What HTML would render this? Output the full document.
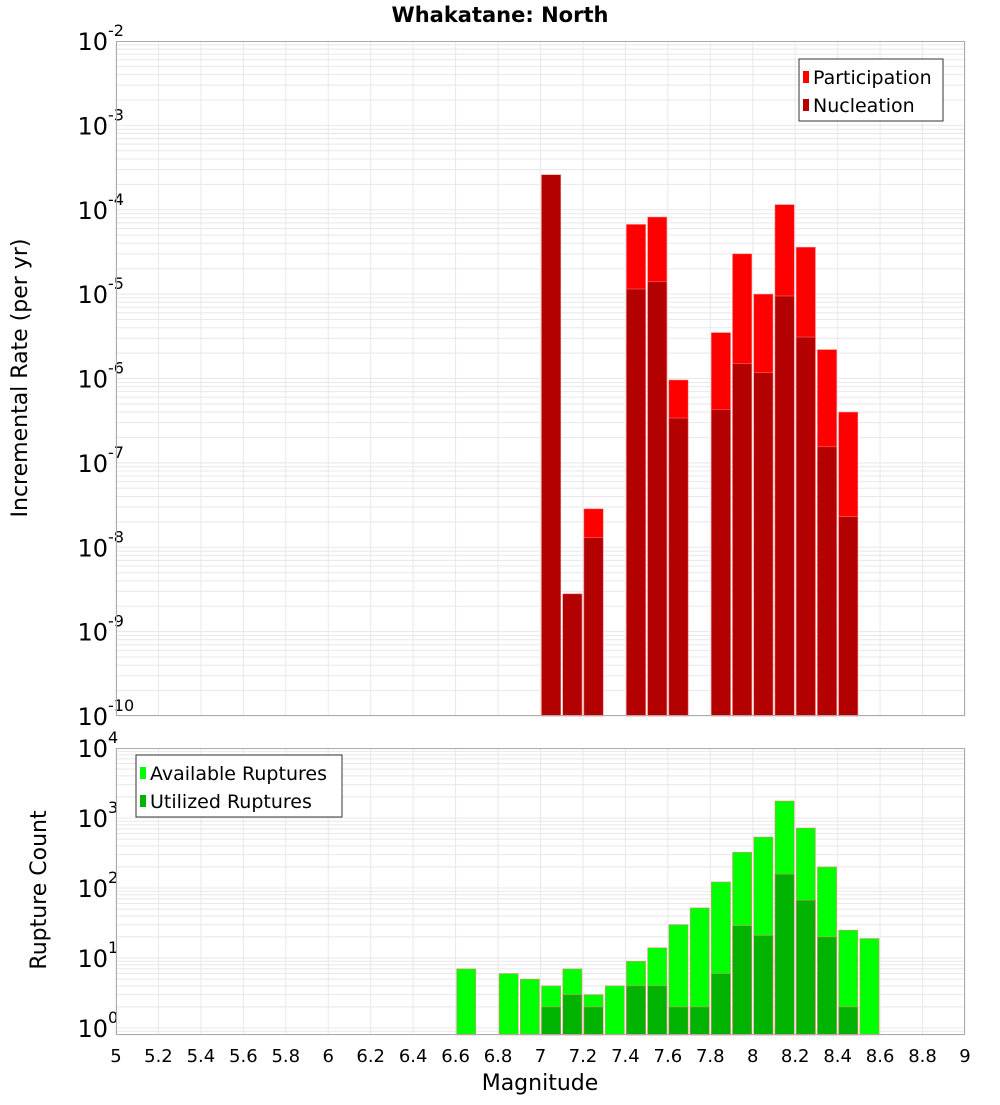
<!DOCTYPE html>
<html><head><meta charset="utf-8">
<style>
body{margin:0;background:#fff;width:1000px;height:1100px;overflow:hidden}
svg{font-family:"DejaVu Sans","Liberation Sans",sans-serif}
</style></head><body>
<svg id="chart" width="1000" height="1100" xmlns="http://www.w3.org/2000/svg">
<text x="500" y="22" text-anchor="middle" font-size="21" font-weight="bold">Whakatane: North</text>
<g id="top"></g><g id="bot"></g>
<text transform="translate(27,378) rotate(-90)" text-anchor="middle" font-size="22">Incremental Rate (per yr)</text>
<text transform="translate(46,890) rotate(-90)" text-anchor="middle" font-size="22">Rupture Count</text>
<text x="540" y="1090" text-anchor="middle" font-size="22">Magnitude</text>
</svg>
<script>
const bins=[6.65,6.75,6.85,6.95,7.05,7.15,7.25,7.35,7.45,7.55,7.65,7.75,7.85,7.95,8.05,8.15,8.25,8.35,8.45,8.55];
const participation=[0,0,0,0,2.6e-4,2.8e-9,2.85e-8,0,6.7e-5,8.2e-5,9.6e-7,0,3.5e-6,3.0e-5,1.0e-5,1.15e-4,3.6e-5,2.2e-6,4.0e-7,0];
const nucleation=[0,0,0,0,2.6e-4,2.8e-9,1.3e-8,0,1.15e-5,1.4e-5,3.4e-7,0,4.3e-7,1.5e-6,1.17e-6,9.5e-6,3.1e-6,1.55e-7,2.3e-8,0];
const available=[7,0,6,5,4,7,3,4,9,14,30,52,122,325,535,1750,720,200,25,19];
const utilized=[0,0,0,0,2,3,2,0,4,4,2,2,6,29,21,158,67,20,2,0];
const xTicks=[5,5.2,5.4,5.6,5.8,6,6.2,6.4,6.6,6.8,7,7.2,7.4,7.6,7.8,8,8.2,8.4,8.6,8.8,9];
const topExps=[-2,-3,-4,-5,-6,-7,-8,-9,-10];
const botExps=[4,3,2,1,0];

const NS='http://www.w3.org/2000/svg';
const X0=116,X1=965;
const xs=m=>X0+(m-5)/4*(X1-X0);
const T={top:41,bot:716,hi:-2,lo:-10};
const B={top:748,bot:1035,hi:4,lo:-0.1};
const ys=(P,v)=>P.top+(P.hi-Math.log10(v))/(P.hi-P.lo)*(P.bot-P.top);
function mk(par,tag,at){const e=document.createElementNS(NS,tag);for(const k in at)e.setAttribute(k,at[k]);par.appendChild(e);return e;}

function panel(g,P,exps,name){
  const bg=mk(g,'rect',{x:X0,y:P.top,width:X1-X0,height:P.bot-P.top,fill:'#fff'});
  
  
  for(let d=Math.floor(P.lo);d<P.hi;d++){for(let k=1;k<10;k++){const v=k*Math.pow(10,d);const lv=Math.log10(v);if(lv<P.lo||lv>P.hi)continue;const y=ys(P,v);
    const l=mk(g,'line',{x1:X0,x2:X1,y1:y,y2:y,stroke:'#e8e8e8','stroke-width':1});
    
    }}
  xTicks.forEach(t=>{const x=xs(t);const l=mk(g,'line',{x1:x,x2:x,y1:P.top,y2:P.bot,stroke:'#e8e8e8','stroke-width':1});
    
    });
  exps.forEach(e=>{const y=ys(P,Math.pow(10,e));const t=mk(g,'text',{x:108,y:y+9,'text-anchor':'end','font-size':24});
    
    
    t.textContent='10';
    const s=mk(g,'text',{x:108,y:y-5,'font-size':16});
    
    
    s.textContent=String(e);});
}
function bars(g,P,vals,color,name){
  vals.forEach((v,i)=>{if(!v)return;const x=xs(bins[i]-0.05)+1;const w=xs(bins[i]+0.05)-xs(bins[i]-0.05)-2;const y=ys(P,v);
    const r=mk(g,'rect',{x:x,y:y,width:w,height:P.bot-y,fill:color,stroke:'#ff8080','stroke-width':0.5});
    
    });
}
function border(g,P,name){const r=mk(g,'rect',{x:X0+0.5,y:P.top+0.5,width:X1-X0-1,height:P.bot-P.top-1,fill:'none',stroke:'#aaa','stroke-width':1});
  
  }
function legend(g,x,y,w,items,name){
  const b=mk(g,'rect',{x:x,y:y,width:w,height:62,fill:'#fff',stroke:'#333','stroke-width':1});
  
  
  items.forEach((it,i)=>{const cy=y+18+i*28;
    const s=mk(g,'rect',{x:x+4,y:cy-6,width:6,height:12,fill:it[1]});
    
    
    const t=mk(g,'text',{x:x+14,y:cy+7,'font-size':19});
    
    
    t.textContent=it[0];});
}
const gt=document.getElementById('top'),gb=document.getElementById('bot');
panel(gt,T,topExps,'top');
bars(gt,T,participation,'#ff0000','participation');
bars(gt,T,nucleation,'#b30000','nucleation');
border(gt,T,'top');
legend(gt,799,59,144,[['Participation','#ff0000'],['Nucleation','#b30000']],'top-legend');
panel(gb,B,botExps,'bottom');
bars(gb,B,available,'#00ff00','available');
bars(gb,B,utilized,'#00b300','utilized');
border(gb,B,'bottom');
legend(gb,136,755,206,[['Available Ruptures','#00ff00'],['Utilized Ruptures','#00b300']],'bottom-legend');
xTicks.forEach(t=>{const tx=mk(gb,'text',{x:xs(t),y:1062,'text-anchor':'middle','font-size':18});
  
  
  tx.textContent=String(t);});
</script>
</body></html>
